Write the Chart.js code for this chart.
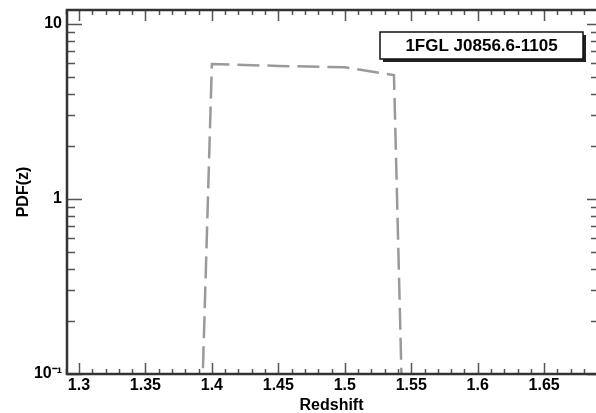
<!DOCTYPE html>
<html>
<head>
<meta charset="UTF-8">
<title>PDF(z) - 1FGL J0856.6-1105</title>
<script src="https://cdn.jsdelivr.net/npm/chart.js"></script>
<style>
    body {
        margin: 0;
        background: #fff;
    }
    #wrap {
        width: 596px;
        height: 413px;
    }
</style>
</head>
<body>
<div id="wrap"><canvas id="pdfChart" width="596" height="413"></canvas></div>

<script>
    // data
    const sourceName = '1FGL J0856.6-1105';
    const redshifts = [1.39, 1.40, 1.45, 1.50, 1.537, 1.545];
    const pdfValues = [0.015, 5.9, 5.75, 5.65, 5.1, 0.019];

    // axes
    const xMajorTicks = [1.3, 1.35, 1.4, 1.45, 1.5, 1.55, 1.6, 1.65];
    const xMinorTicks = [1.29, 1.31, 1.32, 1.33, 1.34, 1.36, 1.37, 1.38, 1.39, 1.41, 1.42, 1.43, 1.44,
        1.46, 1.47, 1.48, 1.49, 1.51, 1.52, 1.53, 1.54, 1.56, 1.57, 1.58, 1.59, 1.61, 1.62, 1.63, 1.64,
        1.66, 1.67, 1.68];
    const yMajorTicks = [0.1, 1, 10];
    const yTickLabels = ['10⁻¹', '1', '10'];
    const yMinorTicks = [0.2, 0.3, 0.4, 0.5, 0.6, 0.7, 0.8, 0.9, 2, 3, 4, 5, 6, 7, 8, 9];

    const labelFont = { family: '"Liberation Sans", Arial, sans-serif', size: 16, weight: 'bold', lineHeight: 1 };

    // frame + inward tick marks, like the original plotting package
    const frameTicks = {
        id: 'frameTicks',
        afterDraw(chart) {
            const ctx = chart.ctx;
            const a = chart.chartArea;
            const xs = chart.scales.x;
            const ys = chart.scales.y;
            ctx.save();
            ctx.strokeStyle = '#555';
            ctx.lineWidth = 1.5;
            ctx.beginPath();
            const xTick = (v, len) => {
                const px = Math.round(xs.getPixelForValue(v)) + 0.5;
                ctx.moveTo(px, a.bottom); ctx.lineTo(px, a.bottom - len);
                ctx.moveTo(px, a.top); ctx.lineTo(px, a.top + len);
            };
            const yTick = (v, lenL, lenR) => {
                const py = Math.round(ys.getPixelForValue(v)) + 0.5;
                ctx.moveTo(a.left, py); ctx.lineTo(a.left + lenL, py);
                ctx.moveTo(a.right, py); ctx.lineTo(a.right - lenR, py);
            };
            xMajorTicks.forEach(v => xTick(v, 11));
            xMinorTicks.forEach(v => xTick(v, 5));
            yMajorTicks.forEach(v => yTick(v, 15, 9));
            yMinorTicks.forEach(v => yTick(v, 8, 5));
            ctx.stroke();

            ctx.strokeStyle = '#333';
            ctx.lineWidth = 2.5;
            ctx.beginPath();
            ctx.moveTo(a.right, a.top);
            ctx.lineTo(a.left, a.top);
            ctx.lineTo(a.left, a.bottom);
            ctx.lineTo(a.right, a.bottom);
            ctx.stroke();
            ctx.restore();
        }
    };

    // source name box with a drop shadow
    const nameBox = {
        id: 'nameBox',
        afterDraw(chart) {
            const ctx = chart.ctx;
            const a = chart.chartArea;
            const w = 203, h = 27;
            const x = a.right - 216, y = a.top + 22;
            ctx.save();
            ctx.fillStyle = '#222';
            ctx.fillRect(x + 3, y + 3, w, h);
            ctx.fillStyle = '#fff';
            ctx.fillRect(x, y, w, h);
            ctx.strokeStyle = '#111';
            ctx.lineWidth = 1.5;
            ctx.strokeRect(x, y, w, h);
            ctx.fillStyle = '#000';
            ctx.font = 'bold 17px "Liberation Sans", Arial, sans-serif';
            ctx.textAlign = 'center';
            ctx.textBaseline = 'middle';
            ctx.fillText(sourceName, x + w / 2, y + h / 2 + 1);
            ctx.restore();
        }
    };

    const ctx = document.getElementById('pdfChart').getContext('2d');
    const pdfChart = new Chart(ctx, {
        type: 'line',
        data: {
            datasets: [{
                label: sourceName,
                data: redshifts.map((z, i) => ({ x: z, y: pdfValues[i] })),
                borderColor: '#9a9a9a',
                borderWidth: 2.5,
                borderDash: [22, 8],
                pointRadius: 0,
                tension: 0,
                fill: false
            }]
        },
        options: {
            responsive: false,
            animation: false,
            layout: { padding: { top: 10, right: 0, left: 0, bottom: 0 } },
            plugins: {
                legend: { display: false },
                tooltip: { enabled: false }
            },
            scales: {
                x: {
                    type: 'linear',
                    min: 1.291,
                    max: 1.689,
                    grid: { display: false, drawTicks: false, tickLength: 0 },
                    border: { display: false },
                    afterBuildTicks: scale => {
                        scale.ticks = xMajorTicks.map(v => ({ value: v }));
                    },
                    afterFit: scale => { scale.height = 39; },
                    ticks: {
                        autoSkip: false,
                        maxRotation: 0,
                        padding: 4,
                        color: '#000',
                        font: labelFont,
                        callback: v => String(v)
                    },
                    title: {
                        display: true,
                        text: 'Redshift',
                        color: '#000',
                        font: labelFont,
                        padding: { top: 0, bottom: -1 }
                    }
                },
                y: {
                    type: 'logarithmic',
                    min: 0.1,
                    max: 12,
                    grid: { display: false, drawTicks: false, tickLength: 0 },
                    border: { display: false },
                    afterBuildTicks: scale => {
                        scale.ticks = yMajorTicks.map(v => ({ value: v }));
                    },
                    afterFit: scale => {
                        scale.width = 67;
                        scale.paddingTop = 0;
                        scale.paddingBottom = 0;
                    },
                    ticks: {
                        autoSkip: false,
                        padding: 5,
                        color: '#000',
                        font: labelFont,
                        callback: (v, i) => yTickLabels[i]
                    },
                    title: {
                        display: true,
                        text: 'PDF(z)',
                        color: '#000',
                        font: labelFont,
                        padding: { top: 16, bottom: 0 }
                    }
                }
            }
        },
        plugins: [frameTicks, nameBox]
    });
</script>
</body>
</html>
